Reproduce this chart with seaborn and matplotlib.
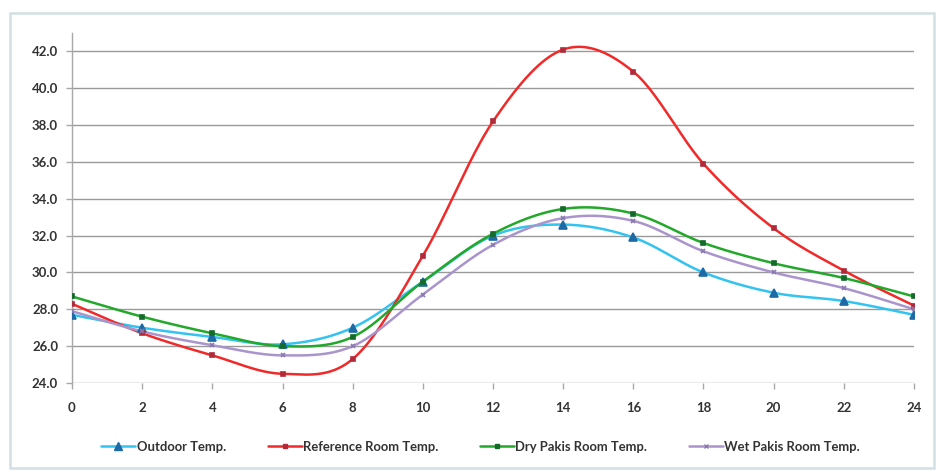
import numpy as np
import pandas as pd
import matplotlib
matplotlib.use("Agg")
import matplotlib.pyplot as plt
from matplotlib.patches import Rectangle
from matplotlib.lines import Line2D
import seaborn as sns

# Hourly readings (hour of day, temperature in deg C)
hours = [0, 2, 4, 6, 8, 10, 12, 14, 16, 18, 20, 22, 24]
outdoor = [27.7, 27.0, 26.5, 26.1, 27.0, 29.5, 32.0, 32.6, 31.9, 30.0, 28.9, 28.45, 27.7]
reference = [28.3, 26.7, 25.5, 24.5, 25.3, 30.9, 38.2, 42.1, 40.9, 35.9, 32.4, 30.1, 28.2]
dry_pakis = [28.7, 27.6, 26.7, 26.0, 26.5, 29.5, 32.1, 33.45, 33.2, 31.6, 30.5, 29.7, 28.7]
wet_pakis = [27.9, 26.8, 26.05, 25.5, 26.0, 28.8, 31.5, 32.95, 32.8, 31.15, 30.0, 29.15, 28.0]

series_names = ["Outdoor Temp.", "Reference Room Temp.",
                "Dry Pakis Room Temp.", "Wet Pakis Room Temp."]
y_ticks = [24.0, 26.0, 28.0, 30.0, 32.0, 34.0, 36.0, 38.0, 40.0, 42.0]


def smooth_curve(x, y, steps=40):
    """Excel-style smoothed line: cubic Bezier segments with Catmull-Rom tangents."""
    x = np.asarray(x, float)
    y = np.asarray(y, float)
    pts = np.column_stack([x, y])
    ext = np.vstack([pts[0], pts, pts[-1]])
    out = []
    t = np.linspace(0, 1, steps)[:, None]
    for i in range(len(pts) - 1):
        p0, p1, p2, p3 = ext[i], ext[i + 1], ext[i + 2], ext[i + 3]
        c1 = p1 + (p2 - p0) / 6.0
        c2 = p2 - (p3 - p1) / 6.0
        seg = ((1 - t) ** 3) * p1 + 3 * ((1 - t) ** 2) * t * c1 \
            + 3 * (1 - t) * t ** 2 * c2 + t ** 3 * p2
        out.append(seg if i == 0 else seg[1:])
    return np.vstack(out)


sns.set_theme(style="white")
plt.rcParams["font.family"] = ["Lato", "DejaVu Sans"]

fig = plt.figure(figsize=(9.37, 4.73), dpi=100)
fig.patch.set_facecolor("white")
ax = fig.add_axes([72 / 937, 1 - 383 / 473, 842 / 937, 350 / 473])

styles = [
    dict(line="#33c3f0", mk="^", mc="#1d6aa5", ms=5.5),
    dict(line="#f02a2a", mk="s", mc="#b02a3a", ms=3),
    dict(line="#22a82a", mk="s", mc="#146a2a", ms=3),
    dict(line="#a994cc", mk="x", mc="#8a78b0", ms=3.5),
]
values = [outdoor, reference, dry_pakis, wet_pakis]

for name, vals, st in zip(series_names, values, styles):
    curve = smooth_curve(hours, vals)
    df_curve = pd.DataFrame({"hour": curve[:, 0], "temp": curve[:, 1]})
    sns.lineplot(data=df_curve, x="hour", y="temp", ax=ax, color=st["line"],
                 linewidth=1.8, sort=False, estimator=None, zorder=3)
    df_pts = pd.DataFrame({"hour": hours, "temp": vals})
    ax.plot(df_pts["hour"], df_pts["temp"], linestyle="none", marker=st["mk"],
            markersize=st["ms"], color=st["mc"], markeredgecolor=st["mc"],
            markeredgewidth=1.2, zorder=4)

ax.set_xlim(0, 24)
ax.set_ylim(24, 43)
ax.set_xticks(hours)
ax.set_xticklabels([str(h) for h in hours])
ax.set_yticks(y_ticks)
ax.set_yticklabels([f"{v:.1f}" for v in y_ticks])
ax.set_xlabel("")
ax.set_ylabel("")

ax.grid(axis="y", color="#9a9a9a", linewidth=1.0)
ax.grid(axis="x", visible=False)
for side in ["top", "right", "bottom"]:
    ax.spines[side].set_visible(False)
ax.spines["left"].set_color("#a8a8a8")
ax.spines["left"].set_linewidth(1.0)

ax.tick_params(axis="x", which="major", bottom=True, length=4, width=1,
               color="#a8a8a8", pad=10, labelsize=9.5, labelcolor="#333333")
ax.tick_params(axis="y", which="major", left=True, length=4, width=1,
               color="#a8a8a8", pad=6, labelsize=9.5, labelcolor="#333333")
for lab in ax.get_xticklabels() + ax.get_yticklabels():
    lab.set_fontweight("bold")

handles = [Line2D([0], [0], color=st["line"], linewidth=1.8, marker=st["mk"],
                  markersize=st["ms"], markerfacecolor=st["mc"],
                  markeredgecolor=st["mc"]) for st in styles]
leg = fig.legend(handles, series_names, loc="center", ncol=4,
                 bbox_to_anchor=(0.513, 1 - 447 / 473), frameon=False,
                 fontsize=9.4, handlelength=2.6, handletextpad=0.1,
                 columnspacing=3.2)
for txt in leg.get_texts():
    txt.set_fontweight("bold")
    txt.set_color("#333333")

# Chart area frame
fig.patches.append(Rectangle((10 / 937, 1 - 468 / 473), 924 / 937, 455 / 473,
                             transform=fig.transFigure, fill=False,
                             edgecolor="#d2dfe3", linewidth=1.8, zorder=0))

fig.savefig("out.png", dpi=100, facecolor="white")
